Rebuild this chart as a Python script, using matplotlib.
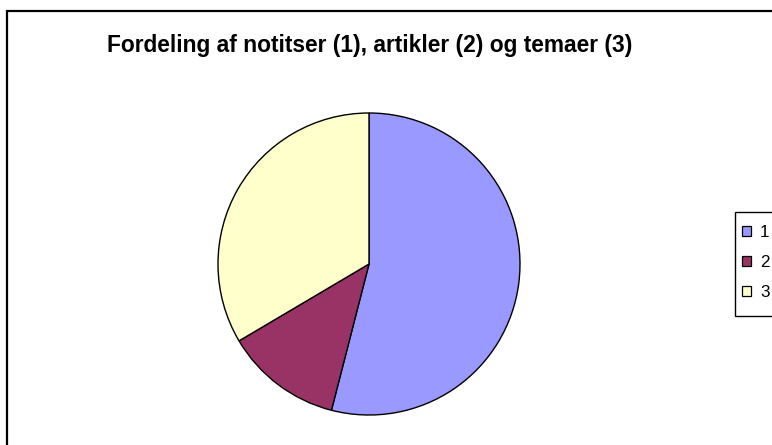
import matplotlib
matplotlib.use('Agg')
import matplotlib.pyplot as plt
from matplotlib.patches import Rectangle, Patch

# Pie data (share of items per category)
labels = ['1', '2', '3']
values = [54.0, 12.5, 33.5]
colors = ['#9999FF', '#993366', '#FFFFCC']
title = 'Fordeling af notitser (1), artikler (2) og temaer (3)'

plt.rcParams['font.family'] = ['Liberation Sans', 'DejaVu Sans']

W, H = 772, 445
fig = plt.figure(figsize=(W / 100, H / 100), dpi=100)

# chart area border (runs off the right and bottom edges)
fig.patches.append(Rectangle((7 / W, -0.1), 1.2, 1 - 11 / H + 0.1,
                             transform=fig.transFigure, fill=False,
                             edgecolor='black', linewidth=1.6))

cx, cy, r = 369, 264, 151
ax = fig.add_axes([(cx - r) / W, (H - cy - r) / H, 2 * r / W, 2 * r / H])
ax.pie(values, colors=colors, startangle=90, counterclock=False,
       wedgeprops=dict(edgecolor='black', linewidth=1.0))
ax.set_xlim(-1.0, 1.0)
ax.set_ylim(-1.0, 1.0)
ax.set_aspect('auto')
ax.axis('off')

fig.text(370 / W, 1 - 52 / H, title, ha='center', va='baseline',
         fontsize=16.4, fontweight='bold')

# legend box, also cut by the right edge
fig.patches.append(Rectangle((735 / W, 1 - 316 / H), 0.1, 104 / H,
                             transform=fig.transFigure, facecolor='white',
                             edgecolor='black', linewidth=1.0))

handles = [Patch(facecolor=c, edgecolor='black', linewidth=0.9) for c in colors]
leg = fig.legend(handles, labels, loc='upper left',
                 bbox_to_anchor=(738 / W, 1 - 221 / H), fontsize=12.3,
                 frameon=False, handlelength=0.5,
                 handleheight=0.5, handletextpad=0.55, labelspacing=0.87,
                 borderpad=0.25, borderaxespad=0)

fig.savefig('out.png', dpi=100)
